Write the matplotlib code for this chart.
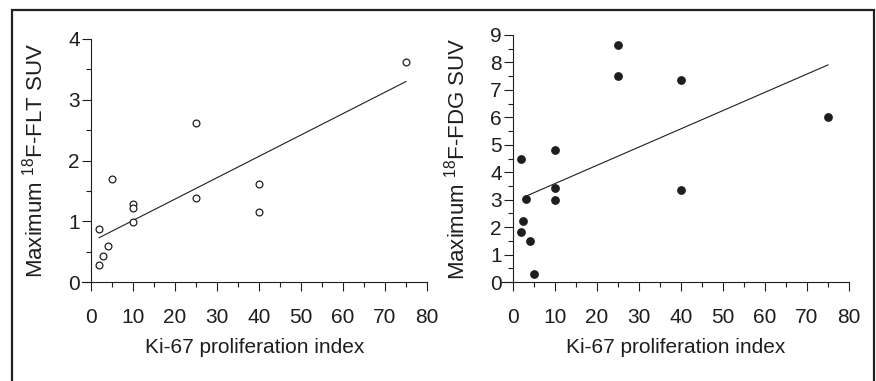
import matplotlib
matplotlib.use("Agg")
import matplotlib.pyplot as plt
from matplotlib.patches import Rectangle
from matplotlib.ticker import MultipleLocator

plt.rcParams['font.family'] = ['Liberation Sans', 'DejaVu Sans']
plt.rcParams['mathtext.default'] = 'regular'

# Ki-67 index vs 18F-FLT max SUV (open circles)
flt_ki67 = [2, 2, 3, 4, 5, 10, 10, 10, 25, 25, 40, 40, 75]
flt_suv = [0.88, 0.28, 0.42, 0.60, 1.69, 1.29, 1.22, 0.98, 2.62, 1.39, 1.62, 1.15, 3.62]
flt_fit_x = [2, 75]
flt_fit_y = [0.73, 3.30]

# Ki-67 index vs 18F-FDG max SUV (filled circles)
fdg_ki67 = [2, 3, 2.5, 2, 4, 5, 10, 10, 10, 25, 25, 40, 40, 75]
fdg_suv = [4.48, 3.02, 2.22, 1.83, 1.49, 0.30, 4.81, 3.42, 2.97, 8.64, 7.51, 7.37, 3.36, 6.01]
fdg_fit_x = [3, 75]
fdg_fit_y = [3.12, 7.91]

x_ticks = [0, 10, 20, 30, 40, 50, 60, 70, 80]
xlabel = 'Ki-67 proliferation index'

ink = '#1e1e1e'
fs = 15

fig = plt.figure(figsize=(8.76, 3.81), dpi=100)

# outer frame of the scanned figure
fig.patches.append(Rectangle((12 / 876, -0.05), 862 / 876, 1.05 - 9.5 / 381,
                             transform=fig.transFigure, fill=False,
                             edgecolor='#222222', linewidth=1.6))


def setup(ax, xlo, ymax, ylab):
    ax.set_xlim(xlo, 80)
    ax.set_ylim(0, ymax)
    for s in ['top', 'right']:
        ax.spines[s].set_visible(False)
    ax.spines['left'].set_position(('data', 0))
    for s in ['left', 'bottom']:
        ax.spines[s].set_color(ink)
        ax.spines[s].set_linewidth(0.8)
    ax.set_xticks(x_ticks)
    ax.xaxis.set_minor_locator(MultipleLocator(5))
    ax.yaxis.set_major_locator(MultipleLocator(1))
    ax.yaxis.set_minor_locator(MultipleLocator(0.5))
    ax.tick_params(which='major', length=6.5, width=0.8, color=ink,
                   labelsize=fs, labelcolor=ink)
    ax.tick_params(which='minor', length=3.5, width=0.8, color=ink)
    ax.tick_params(axis='x', which='major', pad=12)
    ax.tick_params(axis='y', which='major', pad=1.5)
    ax.set_xlabel(xlabel, fontsize=fs, color=ink, labelpad=8)
    ax.set_ylabel(ylab, fontsize=fs + 1, color=ink)
    ax.patch.set_alpha(0)


ax1 = fig.add_axes([82 / 876, 99 / 381, 345 / 876, 243 / 381])
setup(ax1, -2.1, 4, r'Maximum $^{18}$F-FLT SUV')
ax1.plot(flt_fit_x, flt_fit_y, color=ink, linewidth=0.8)
ax1.scatter(flt_ki67, flt_suv, s=24, facecolors='white', edgecolors=ink,
            linewidths=0.9, zorder=3, clip_on=False)
ax1.yaxis.set_label_coords(-0.099, 0.5)

ax2 = fig.add_axes([502 / 876, 99 / 381, 347 / 876, 247 / 381])
setup(ax2, -2.6, 9, r'Maximum $^{18}$F-FDG SUV')
ax2.plot(fdg_fit_x, fdg_fit_y, color=ink, linewidth=0.8)
ax2.scatter(fdg_ki67, fdg_suv, s=28, color=ink, zorder=3, clip_on=False)
ax2.yaxis.set_label_coords(-0.095, 0.5)

fig.savefig('out.png', dpi=100)
